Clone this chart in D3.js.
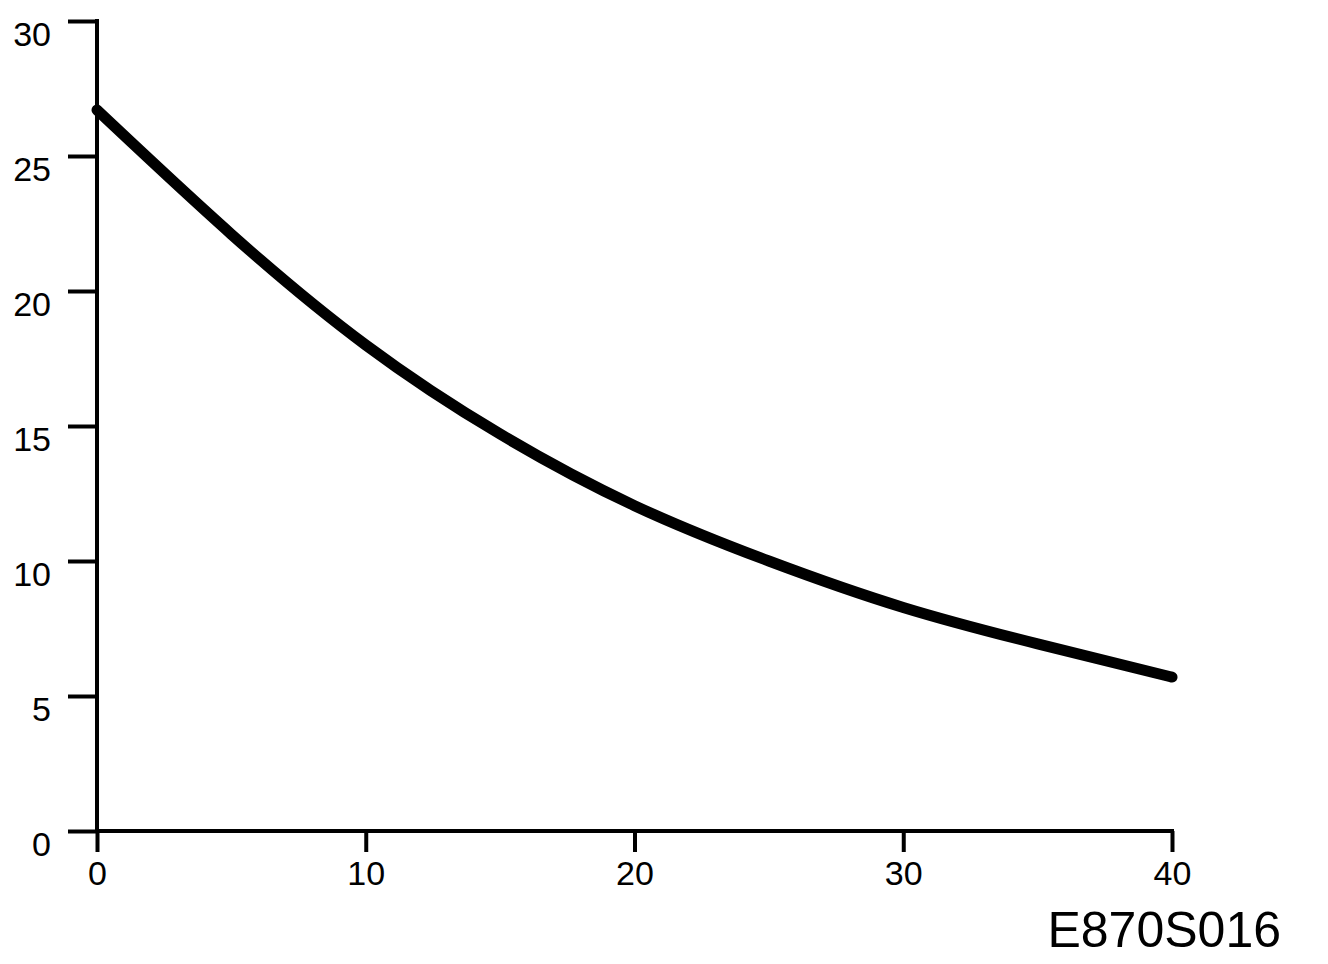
<!DOCTYPE html>
<html>
<head>
<meta charset="utf-8">
<script src="https://cdn.jsdelivr.net/npm/d3@7"></script>
<style>
  html, body { margin: 0; padding: 0; background: #fff; }
  svg { display: block; }
  text { font-family: "Liberation Sans", Arial, sans-serif; fill: #000; }
</style>
</head>
<body>
<svg id="chart" width="1328" height="964"></svg>
<script>
// Data
const xValues = [0, 5, 10, 15, 20, 25, 30, 35, 40];
const yValues = [26.7, 22.1, 18.0, 14.7, 12.05, 10.0, 8.28, 6.93, 5.70];
const xTicks = [0, 10, 20, 30, 40];
const yTicks = [0, 5, 10, 15, 20, 25, 30];
const codeLabel = "E870S016";

const svg = d3.select("#chart");
const margin = { left: 97, top: 21, right: 1172, bottom: 831 };

const x = d3.scaleLinear().domain([0, 40]).range([margin.left, margin.right]);
const y = d3.scaleLinear().domain([0, 30]).range([margin.bottom, margin.top]);

// Y axis
const yAxis = d3.axisLeft(y).tickValues(yTicks).tickSize(29).tickSizeOuter(0).tickFormat(d3.format("d"));
const gy = svg.append("g").attr("transform", `translate(${x(0)},0)`).call(yAxis);
gy.select(".domain").remove();
gy.selectAll(".tick line").attr("stroke", "#000").attr("stroke-width", 4);
gy.selectAll(".tick text")
  .attr("x", -46).attr("dy", 24.5).attr("text-anchor", "end")
  .style("font-size", "34px").style("font-family", "'Liberation Sans', Arial, sans-serif");

// X axis
const xAxis = d3.axisBottom(x).tickValues(xTicks).tickSize(21).tickSizeOuter(0).tickFormat(d3.format("d"));
const gx = svg.append("g").attr("transform", `translate(0,${y(0)})`).call(xAxis);
gx.select(".domain").remove();
gx.selectAll(".tick line").attr("stroke", "#000").attr("stroke-width", 4);
gx.selectAll(".tick text")
  .attr("y", 54).attr("dy", 0).attr("text-anchor", "middle")
  .style("font-size", "34px").style("font-family", "'Liberation Sans', Arial, sans-serif");

// Axis lines
svg.append("line")
  .attr("x1", x(0)).attr("x2", x(0)).attr("y1", y(30) - 2).attr("y2", y(0))
  .attr("stroke", "#000").attr("stroke-width", 4);
svg.append("line")
  .attr("x1", x(0)).attr("x2", x(40) + 2).attr("y1", y(0)).attr("y2", y(0))
  .attr("stroke", "#000").attr("stroke-width", 4);

// Curve
const pts = xValues.map((v, i) => [v, yValues[i]]);
svg.append("path")
  .datum(pts)
  .attr("d", d3.line().x(d => x(d[0])).y(d => y(d[1])).curve(d3.curveNatural))
  .attr("fill", "none").attr("stroke", "#000").attr("stroke-width", 11)
  .attr("stroke-linecap", "round");

// Code label
svg.append("text")
  .attr("x", 1281).attr("y", 947).attr("text-anchor", "end")
  .style("font-size", "50px")
  .text(codeLabel);
</script>
</body>
</html>
